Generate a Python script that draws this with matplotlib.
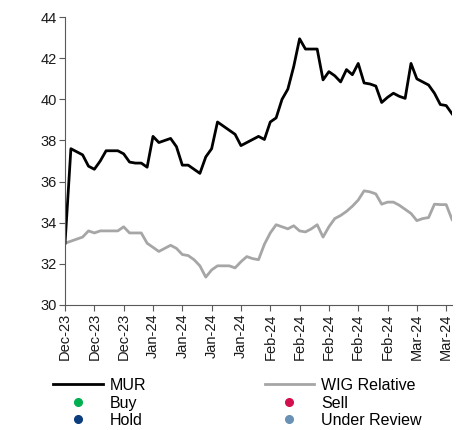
import matplotlib
matplotlib.use('Agg')
import matplotlib.pyplot as plt
from matplotlib.lines import Line2D
import numpy as np

plt.rcParams['font.family'] = ['Liberation Sans', 'DejaVu Sans']

# Daily closes (trading days), weekly tick labels
mur = [33.0, 37.6, 37.45, 37.3, 36.75, 36.6, 37.0, 37.5, 37.5, 37.5,
       37.35, 36.95, 36.9, 36.9, 36.7, 38.2, 37.9, 38.0, 38.1, 37.7,
       36.8, 36.8, 36.6, 36.4, 37.2, 37.6, 38.9, 38.7, 38.5, 38.3,
       37.75, 37.9, 38.05, 38.2, 38.05, 38.9, 39.1, 40.0, 40.5, 41.6,
       42.95, 42.45, 42.45, 42.45, 40.95, 41.35, 41.15, 40.85, 41.45, 41.2,
       41.75, 40.8, 40.75, 40.65, 39.85, 40.1, 40.3, 40.15, 40.05, 41.75,
       41.0, 40.85, 40.7, 40.3, 39.75, 39.7, 39.3]

wig = [33.0, 33.1, 33.2, 33.3, 33.6, 33.5, 33.6, 33.6, 33.6, 33.6,
       33.8, 33.5, 33.5, 33.5, 33.0, 32.8, 32.6, 32.75, 32.9, 32.75,
       32.45, 32.4, 32.2, 31.9, 31.35, 31.7, 31.9, 31.9, 31.9, 31.8,
       32.1, 32.35, 32.25, 32.2, 32.95, 33.5, 33.9, 33.8, 33.7, 33.85,
       33.6, 33.55, 33.7, 33.9, 33.3, 33.8, 34.2, 34.35, 34.55, 34.8,
       35.1, 35.55, 35.5, 35.4, 34.9, 35.0, 35.0, 34.85, 34.65, 34.45,
       34.1, 34.2, 34.25, 34.9, 34.88, 34.88, 34.15]

tick_labels = ['Dec-23', 'Dec-23', 'Dec-23', 'Jan-24', 'Jan-24', 'Jan-24', 'Jan-24',
               'Feb-24', 'Feb-24', 'Feb-24', 'Feb-24', 'Feb-24', 'Mar-24', 'Mar-24']
tick_step = 5

rating_colors = {'Buy': '#00B050', 'Sell': '#D2104D',
                 'Hold': '#0B3C7D', 'Under Review': '#6891B5'}

x = np.arange(len(mur))

fig = plt.figure(figsize=(4.58, 4.30), dpi=100)
ax = fig.add_axes([0.142, 0.291, 0.845, 0.669])

ax.plot(x, wig, color='#A6A6A6', lw=2.0, solid_joinstyle='round')
ax.plot(x, mur, color='black', lw=2.0, solid_joinstyle='round')

ax.set_xlim(0, len(mur) - 1)
ax.set_ylim(30, 44)
ax.set_yticks(np.arange(30, 45, 2))
ax.set_xticks(np.arange(len(tick_labels)) * tick_step)
ax.set_xticklabels(tick_labels, rotation=90)

for s in ['top', 'right']:
    ax.spines[s].set_visible(False)
for s in ['left', 'bottom']:
    ax.spines[s].set_color('#595959')
    ax.spines[s].set_linewidth(0.8)
ax.tick_params(colors='#595959', labelcolor='#1a1a1a', length=4, width=0.8,
               labelsize=10.5, pad=2)

handles = [
    Line2D([], [], color='black', lw=2.0, label='MUR'),
    Line2D([], [], ls='', marker='o', ms=5.5, color=rating_colors['Buy'], label='Buy'),
    Line2D([], [], ls='', marker='o', ms=5.5, color=rating_colors['Hold'], label='Hold'),
    Line2D([], [], color='#A6A6A6', lw=2.0, label='WIG Relative'),
    Line2D([], [], ls='', marker='o', ms=5.5, color=rating_colors['Sell'], label='Sell'),
    Line2D([], [], ls='', marker='o', ms=5.5, color=rating_colors['Under Review'], label='Under Review'),
]
fig.legend(handles=handles, ncol=2, loc='upper left', bbox_to_anchor=(0.116, 0.121),
           frameon=False, fontsize=11.5, handlelength=3.1, handletextpad=0.45,
           labelspacing=0.16, columnspacing=7.4, borderaxespad=0, borderpad=0)

fig.savefig('out.png', dpi=100)
